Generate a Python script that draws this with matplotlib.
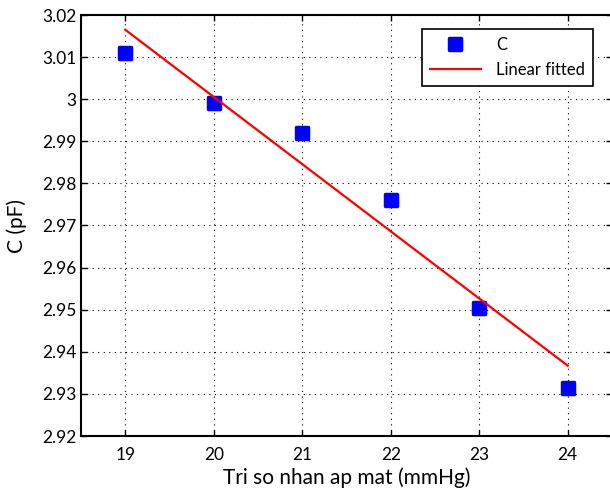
import matplotlib
matplotlib.use('Agg')
import matplotlib.pyplot as plt
from matplotlib.markers import MarkerStyle

plt.rcParams['font.family'] = ['Lato', 'DejaVu Sans']

# measured points
pressure = [19, 20, 21, 22, 23, 24]
cap = [3.011, 2.999, 2.992, 2.976, 2.9505, 2.9315]

# fitted line ends
fit_x = [19, 24]
fit_y = [3.0165, 2.9367]

xticks = [19, 20, 21, 22, 23, 24]
yticks = [2.92, 2.93, 2.94, 2.95, 2.96, 2.97, 2.98, 2.99, 3.0, 3.01, 3.02]
ylabels = ['2.92', '2.93', '2.94', '2.95', '2.96', '2.97', '2.98', '2.99', '3', '3.01', '3.02']

fig = plt.figure(figsize=(6.1, 4.9), dpi=100)
ax = fig.add_axes([81/610, 1 - 436/490, 531/610, 421/490])

sq = MarkerStyle('s', joinstyle='round')
ax.plot(pressure, cap, linestyle='none', marker=sq, markersize=8.5,
        markerfacecolor='blue', markeredgecolor='blue', markeredgewidth=2.5, label='C')
ax.plot(fit_x, fit_y, color='red', lw=1.6, label='Linear fitted')

ax.set_xlim(18.5, 24.5)
ax.set_ylim(2.92, 3.02)
ax.set_xticks(xticks)
ax.set_yticks(yticks)
ax.set_yticklabels(ylabels)
ax.tick_params(direction='in', length=4, width=1, labelsize=12.5, top=True, right=True)
ax.tick_params(axis='x', pad=8)
ax.tick_params(axis='y', pad=3)
ax.grid(True, color='black', linestyle=(0, (1, 4)), linewidth=0.8)
for s in ax.spines.values():
    s.set_linewidth(1.5)

ax.set_xlabel('Tri so nhan ap mat (mmHg)', fontsize=15, labelpad=3)
ax.set_ylabel('C (pF)', fontsize=15, labelpad=11)

leg = ax.legend(loc='upper right', bbox_to_anchor=(512/531, 1 - 14/421), fancybox=False,
                edgecolor='black', framealpha=1, fontsize=12, borderaxespad=0,
                borderpad=0.5, handlelength=3.05, labelspacing=0.5, handletextpad=0.9)
leg.get_frame().set_linewidth(1.2)

fig.savefig('out.png', dpi=100)
